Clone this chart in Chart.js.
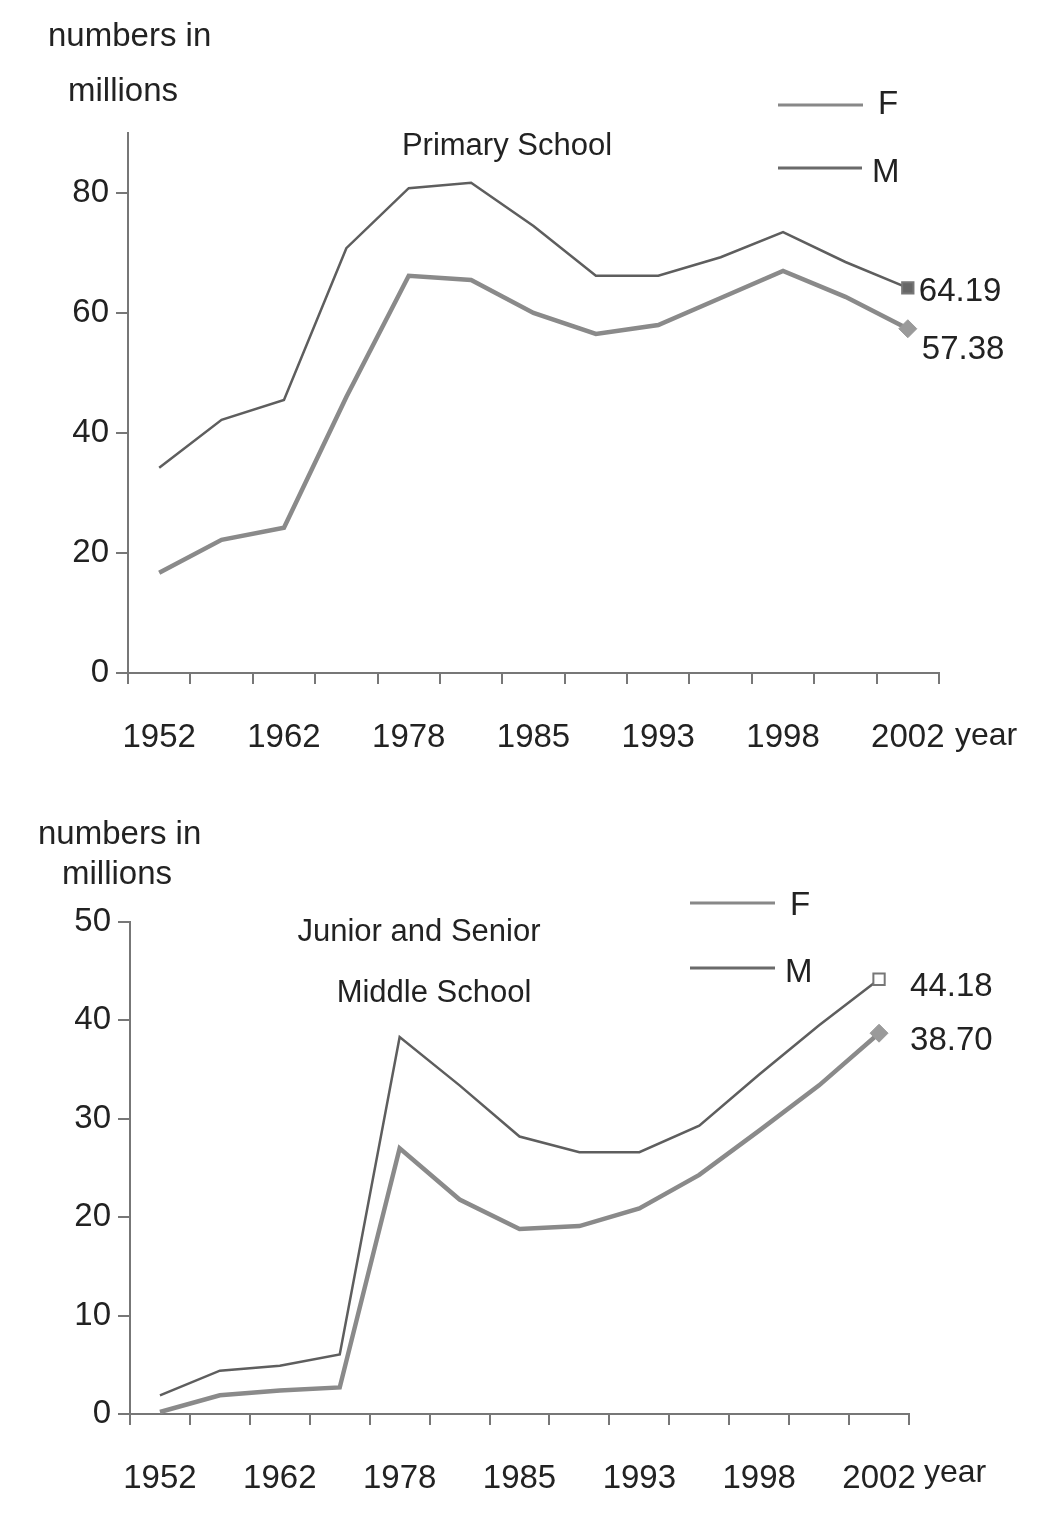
<!DOCTYPE html>
<html>
<head>
<meta charset="utf-8">
<script src="https://cdn.jsdelivr.net/npm/chart.js@4.4.0/dist/chart.umd.min.js"></script>
<style>
  html, body { margin: 0; padding: 0; background: #fff; }
  #wrap { position: relative; width: 1055px; height: 1519px; }
  canvas { position: absolute; left: 0; }
  #primary { top: 0; }
  #middle { top: 790px; }
</style>
</head>
<body>
<div id="wrap">
  <canvas id="primary" width="1055" height="790"></canvas>
  <canvas id="middle" width="1055" height="729"></canvas>
</div>
<script>
// only every other year is labelled on the original axis
const years = ['1952', '', '1962', '', '1978', '', '1985', '', '1993', '', '1998', '', '2002'];

// primary school, millions
const primaryF = [16.7, 22.2, 24.2, 46.0, 66.2, 65.5, 60.0, 56.5, 58.0, 62.5, 67.0, 62.7, 57.38];
const primaryM = [34.2, 42.2, 45.5, 70.8, 80.8, 81.7, 74.5, 66.2, 66.2, 69.3, 73.5, 68.5, 64.19];

// junior and senior middle school, millions
const middleF = [0.2, 1.9, 2.4, 2.7, 27.0, 21.8, 18.8, 19.1, 20.9, 24.3, 28.8, 33.4, 38.70];
const middleM = [1.9, 4.4, 4.9, 6.05, 38.3, 33.4, 28.2, 26.6, 26.6, 29.3, 34.5, 39.5, 44.18];

const primaryTicks = [0, 20, 40, 60, 80];
const middleTicks = [0, 10, 20, 30, 40, 50];

const FONT = "'Liberation Sans', Arial, sans-serif";
const INK = '#222';
const AXIS = '#777';

const lastOnly = (r) => years.map((_, i) => (i === years.length - 1 ? r : 0));

// draws the captions, titles, legend and end values
function textPlugin(o) {
  return {
    id: 'texts',
    afterDraw(chart) {
      const ctx = chart.ctx;
      ctx.save();
      ctx.fillStyle = INK;
      ctx.textBaseline = 'middle';
      ctx.textAlign = 'left';

      ctx.font = '33px ' + FONT;
      ctx.fillText('numbers in', o.caption[0], o.caption[1]);
      ctx.fillText('millions', o.caption[2], o.caption[3]);

      ctx.font = '31px ' + FONT;
      ctx.textAlign = 'center';
      o.title.forEach((t) => ctx.fillText(t.text, t.x, t.y));

      // legend
      ctx.font = '33px ' + FONT;
      ctx.textAlign = 'left';
      o.legend.forEach((l) => {
        ctx.strokeStyle = l.color;
        ctx.lineWidth = 3;
        ctx.beginPath();
        ctx.moveTo(l.x1, l.y);
        ctx.lineTo(l.x2, l.y);
        ctx.stroke();
        ctx.fillText(l.text, l.tx, l.ty);
      });

      // year unit next to the last tick label
      ctx.font = '32px ' + FONT;
      ctx.textBaseline = 'alphabetic';
      ctx.fillText('year', o.year[0], o.year[1]);

      // values at the last points
      ctx.textBaseline = 'middle';
      ctx.font = '33px ' + FONT;
      o.values.forEach((v) => {
        const ds = chart.data.datasets[v.dataset];
        const pt = chart.getDatasetMeta(v.dataset).data[ds.data.length - 1];
        ctx.fillText(ds.data[ds.data.length - 1].toFixed(2), pt.x + v.dx, pt.y + v.dy);
      });
      ctx.restore();
    }
  };
}

function makeChart(id, o) {
  return new Chart(document.getElementById(id), {
    type: 'line',
    data: {
      labels: years,
      datasets: [
        {
          label: 'F',
          data: o.f,
          borderColor: '#8a8a8a',
          borderWidth: 4.5,
          tension: 0,
          pointStyle: 'rectRot',
          pointRadius: lastOnly(9),
          pointBackgroundColor: '#9a9a9a',
          pointBorderColor: '#9a9a9a',
          pointBorderWidth: 1
        },
        {
          label: 'M',
          data: o.m,
          borderColor: '#5e5e5e',
          borderWidth: 2.5,
          tension: 0,
          pointStyle: 'rect',
          pointRadius: lastOnly(8),
          pointBackgroundColor: o.mFill,
          pointBorderColor: '#777',
          pointBorderWidth: 2
        }
      ]
    },
    options: {
      responsive: false,
      animation: false,
      devicePixelRatio: 1,
      events: [],
      layout: { padding: o.padding },
      plugins: { legend: { display: false }, tooltip: { enabled: false } },
      scales: {
        x: {
          offset: true,
          grid: { offset: true, drawOnChartArea: false, drawTicks: true, tickLength: 11, color: AXIS, lineWidth: 2 },
          border: { display: true, color: AXIS, width: 2 },
          ticks: { autoSkip: false, maxRotation: 0, padding: 34, color: INK, font: { family: FONT, size: 33 } },
          afterFit: (axis) => { axis.height = 90; }
        },
        y: {
          min: 0,
          max: o.max,
          grid: { drawOnChartArea: false, drawTicks: true, tickLength: 12, color: AXIS, lineWidth: 2 },
          border: { display: true, color: AXIS, width: 2 },
          ticks: { padding: 7, color: INK, font: { family: FONT, size: 33 } },
          afterBuildTicks: (axis) => { axis.ticks = o.ticks.map((v) => ({ value: v })); },
          afterFit: (axis) => { axis.width = 60; }
        }
      }
    },
    plugins: [textPlugin(o)]
  });
}

makeChart('primary', {
  f: primaryF,
  m: primaryM,
  mFill: '#666',
  max: 90,
  ticks: primaryTicks,
  padding: { left: 68, right: 116, top: 133, bottom: 27 },
  caption: [48, 37, 68, 92],
  title: [{ text: 'Primary School', x: 507, y: 146 }],
  legend: [
    { text: 'F', color: '#888', x1: 778, x2: 863, y: 105, tx: 878, ty: 105 },
    { text: 'M', color: '#6a6a6a', x1: 778, x2: 862, y: 168, tx: 872, ty: 173 }
  ],
  year: [955, 745],
  values: [
    { dataset: 1, dx: 11, dy: 4 },
    { dataset: 0, dx: 14, dy: 21 }
  ]
});

makeChart('middle', {
  f: middleF,
  m: middleM,
  mFill: '#fff',
  max: 50,
  ticks: middleTicks,
  padding: { left: 70, right: 146, top: 132, bottom: 15 },
  caption: [38, 45, 62, 85],
  title: [
    { text: 'Junior and Senior', x: 419, y: 142 },
    { text: 'Middle School', x: 434, y: 203 }
  ],
  legend: [
    { text: 'F', color: '#888', x1: 690, x2: 775, y: 113, tx: 790, ty: 116 },
    { text: 'M', color: '#6a6a6a', x1: 690, x2: 775, y: 178, tx: 785, ty: 183 }
  ],
  year: [924, 692],
  values: [
    { dataset: 1, dx: 31, dy: 8 },
    { dataset: 0, dx: 31, dy: 8 }
  ]
});
</script>
</body>
</html>
